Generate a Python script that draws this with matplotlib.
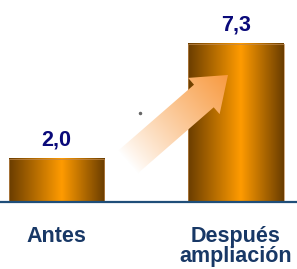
import numpy as np
import matplotlib
matplotlib.use('Agg')
import matplotlib.pyplot as plt
from matplotlib.colors import LinearSegmentedColormap, to_rgb
from matplotlib.patches import Polygon

# data
categories = ['Antes', 'Después\nampliación']
values = [2.0, 7.3]
value_labels = ['2,0', '7,3']

W, H = 297, 269
fig = plt.figure(figsize=(W / 100, H / 100), dpi=100)
ax = fig.add_axes([0, 67 / H, 1, 1 - 67 / H])
ax.axis('off')

# bars with a "cylinder" gradient
bar_cmap = LinearSegmentedColormap.from_list(
    'bar', [(0, '#6a3d00'), (0.55, '#ff9b00'), (1, '#6a3d00')])
grad = np.linspace(0, 1, 256).reshape(1, -1)
bars = ax.bar(range(len(values)), values, width=0.53, color='none',
              edgecolor='#c08a50', linewidth=0.5, zorder=2)
for b in bars:
    x0, y0, w, h = b.get_x(), b.get_y(), b.get_width(), b.get_height()
    ax.imshow(grad, cmap=bar_cmap, extent=[x0, x0 + w, y0, y0 + h],
              aspect='auto', zorder=1)

ax.set_xlim(-0.315, 1.340)
ax.set_ylim(0, 202 / 21.7)
ax.axhline(0, color='#1f4e79', lw=1.6, clip_on=False, zorder=3)

font = 'Liberation Sans'
for i, (v, lab) in enumerate(zip(values, value_labels)):
    ax.annotate(lab, xy=(i, v), xytext=(0, 9.5), textcoords='offset points',
                ha='center', va='baseline', fontsize=15.5, fontweight='bold',
                color='#0a0a7a', family=font)
for i, cat in enumerate(categories):
    ax.annotate(cat, xy=(i, 0), xytext=(0, -17), textcoords='offset points',
                ha='center', va='top', fontsize=15.5, fontweight='bold',
                color='#183866', family=font, linespacing=0.98)

# decorative arrow in pixel coordinates
ov = fig.add_axes([0, 0, 1, 1], facecolor='none')
ov.set_xlim(0, W)
ov.set_ylim(H, 0)
ov.axis('off')

tail = np.array([128.0, 162.0])
tip = np.array([228.0, 75.0])
d = (tip - tail) / np.linalg.norm(tip - tail)
n = np.array([-d[1], d[0]])
head_len, head_w, shaft_w = 32, 48, 30
base = tip - d * head_len
pts = [tail + n * shaft_w / 2, base + n * shaft_w / 2, base + n * head_w / 2,
       tip, base - n * head_w / 2, base - n * shaft_w / 2, tail - n * shaft_w / 2]
poly = Polygon(pts, closed=True, facecolor='none', edgecolor='none')
ov.add_patch(poly)

yy, xx = np.mgrid[0:H, 0:W] + 0.5
t = ((xx - tail[0]) * d[0] + (yy - tail[1]) * d[1]) / np.linalg.norm(tip - tail)
t = np.clip(t, 0, 1)[..., None]
c0 = np.array(to_rgb('#ffffff'))
c1 = np.array(to_rgb('#f89a40'))
rgb = c0 + (c1 - c0) * t ** 0.9
im = ov.imshow(rgb, extent=[0, W, H, 0], aspect='auto', zorder=1)
im.set_clip_path(poly)
ov.set_xlim(0, W)
ov.set_ylim(H, 0)

ov.plot([140], [113], 'o', ms=1.5, color='#666666')

fig.savefig('out.png', dpi=100)
